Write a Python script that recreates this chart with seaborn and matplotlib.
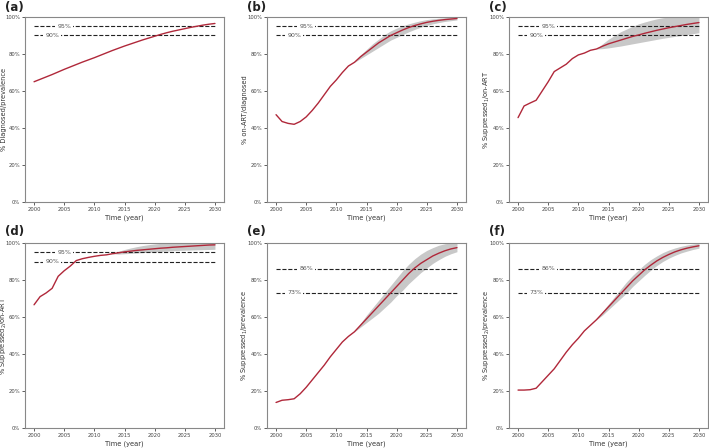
import matplotlib
matplotlib.use("Agg")
import matplotlib.pyplot as plt
import matplotlib.ticker as mticker
import numpy as np
import pandas as pd
import seaborn as sns

years = list(range(2000, 2031))
band_years = list(range(2013, 2031))

# (a) diagnosed / prevalence
diag_prev = [65.0, 66.3, 67.6, 68.9, 70.3, 71.7, 73.0, 74.3, 75.6, 76.8,
             78.0, 79.3, 80.6, 81.9, 83.1, 84.3, 85.4, 86.5, 87.6, 88.6,
             89.6, 90.6, 91.5, 92.3, 93.0, 93.7, 94.4, 95.0, 95.6, 96.1, 96.5]

# (b) on-ART / diagnosed
art_diag = [47.2, 43.5, 42.5, 42.0, 43.5, 46.0, 49.5, 53.5, 58.0, 62.5,
            66.0, 70.0, 73.5, 75.5, 78.5, 81.0, 83.5, 86.0, 88.0, 90.0,
            91.5, 93.0, 94.3, 95.4, 96.3, 97.1, 97.7, 98.2, 98.6, 98.9, 99.2]
art_diag_lo = [75.5, 77.5, 79.5, 81.5, 83.5, 85.5, 87.5, 89.0, 90.5, 92.0,
               93.3, 94.5, 95.5, 96.3, 97.0, 97.6, 98.0, 98.4]
art_diag_hi = [75.5, 79.5, 82.5, 85.5, 88.0, 90.5, 92.5, 94.0, 95.3, 96.3,
               97.2, 98.0, 98.6, 99.0, 99.3, 99.6, 99.8, 100.0]

# (c) suppressed_1 / on-ART
supp1_art = [45.6, 51.9, 53.5, 55.0, 60.0, 65.0, 70.5, 72.5, 74.5, 77.5,
             79.5, 80.5, 82.0, 82.7, 84.2, 85.5, 86.5, 87.5, 88.5, 89.5,
             90.3, 91.2, 92.0, 92.8, 93.5, 94.2, 94.8, 95.4, 96.0, 96.5, 97.0]
supp1_art_lo = [82.7, 82.9, 83.3, 83.8, 84.3, 84.9, 85.5, 86.1, 86.7, 87.3,
                87.9, 88.5, 89.0, 89.5, 90.0, 90.5, 91.0, 91.5]
supp1_art_hi = [82.7, 85.5, 88.0, 90.0, 92.0, 93.5, 95.0, 96.3, 97.3, 98.2,
                99.0, 99.6, 100.0, 100.0, 100.0, 100.0, 100.0, 100.0]

# (d) suppressed_2 / on-ART
supp2_art = [66.6, 71.0, 73.0, 75.5, 82.0, 85.0, 87.5, 90.5, 91.5, 92.2,
             92.8, 93.3, 93.6, 94.2, 94.7, 95.2, 95.6, 96.0, 96.3, 96.6,
             96.9, 97.2, 97.4, 97.7, 97.9, 98.1, 98.3, 98.5, 98.7, 98.9, 99.0]
supp2_art_lo = [94.2, 94.0, 94.2, 94.4, 94.6, 94.8, 95.0, 95.2, 95.4, 95.6,
                95.8, 96.0, 96.1, 96.2, 96.3, 96.4, 96.5, 96.6]
supp2_art_hi = [94.2, 95.5, 96.5, 97.3, 98.0, 98.6, 99.1, 99.5, 99.8, 100.0,
                100.0, 100.0, 100.0, 100.0, 100.0, 100.0, 100.0, 100.0]

# (e) suppressed_1 / prevalence
supp1_prev = [13.8, 15.0, 15.3, 15.8, 18.5, 22.0, 26.0, 30.0, 34.0, 38.5,
              42.5, 46.5, 49.5, 52.0, 55.5, 59.0, 62.5, 66.0, 69.5, 73.0,
              76.5, 80.0, 83.5, 86.5, 89.0, 91.0, 93.0, 94.5, 95.8, 96.8, 97.5]
supp1_prev_lo = [52.0, 54.5, 57.0, 59.5, 62.0, 65.0, 68.0, 71.5, 74.5, 78.0,
                 81.0, 84.0, 86.5, 89.0, 91.0, 92.8, 94.2, 95.3]
supp1_prev_hi = [52.0, 56.5, 61.0, 65.0, 69.0, 73.0, 77.0, 81.0, 85.0, 88.5,
                 91.5, 94.0, 96.0, 97.5, 98.8, 99.6, 100.0, 100.0]

# (f) suppressed_2 / prevalence
supp2_prev = [20.5, 20.5, 20.7, 21.5, 25.0, 28.5, 32.0, 36.5, 41.0, 45.0,
              48.5, 52.5, 55.5, 58.5, 62.0, 65.5, 69.0, 72.5, 76.0, 79.5,
              82.5, 85.5, 88.0, 90.3, 92.2, 93.8, 95.2, 96.3, 97.2, 97.9, 98.5]
supp2_prev_lo = [58.5, 61.0, 64.0, 67.0, 70.0, 73.0, 76.5, 79.5, 82.5, 85.3,
                 87.8, 90.0, 91.8, 93.3, 94.6, 95.6, 96.5, 97.2]
supp2_prev_hi = [58.5, 63.0, 67.0, 71.0, 75.0, 79.0, 82.5, 85.5, 88.5, 91.0,
                 93.0, 94.8, 96.2, 97.3, 98.2, 98.9, 99.4, 99.8]

targets_90 = [95, 90]
targets_73 = [86, 73]

panels = [
    ("(a)", "% Diagnosed/prevalence", diag_prev, None, None, targets_90),
    ("(b)", "% on-ART/diagnosed", art_diag, art_diag_lo, art_diag_hi, targets_90),
    ("(c)", "% Suppressed$_1$/on-ART", supp1_art, supp1_art_lo, supp1_art_hi, targets_90),
    ("(d)", "% Suppressed$_2$/on-ART", supp2_art, supp2_art_lo, supp2_art_hi, targets_90),
    ("(e)", "% Suppressed$_1$/prevalence", supp1_prev, supp1_prev_lo, supp1_prev_hi, targets_73),
    ("(f)", "% Suppressed$_2$/prevalence", supp2_prev, supp2_prev_lo, supp2_prev_hi, targets_73),
]

sns.set_theme(style="ticks")
plt.rcParams["font.family"] = ["DejaVu Sans"]

W, H = 709, 448
fig = plt.figure(figsize=(W / 100, H / 100), dpi=100)

lefts = [25, 267, 509]
ylab_off = [21, 22, 22]   # px from the left spine to the y-label centre
tops = [17, 243]
tag_y = [8, 231]
aw, ah = 199, 185
label_x = [2005, 2003]

for i, (tag, ylabel, vals, lo, hi, targets) in enumerate(panels):
    row, col = divmod(i, 3)
    ax = fig.add_axes([lefts[col] / W, 1 - (tops[row] + ah) / H, aw / W, ah / H])

    if lo is not None:
        ax.fill_between(band_years, lo, hi, color="#c8c8c8", lw=0, zorder=1)
    df = pd.DataFrame({"year": years, "value": vals})
    sns.lineplot(data=df, x="year", y="value", ax=ax, color="#b0283a", lw=1.0, zorder=3)

    for t, lx in zip(targets, label_x):
        ax.hlines(t, 2000, 2030, colors="#222222", linestyles="--", lw=0.8, zorder=2)
        ax.text(lx, t, f"{t}%", ha="center", va="center", fontsize=4.5, color="#555555",
                bbox=dict(fc="white", ec="none", pad=1.5), zorder=2.5)

    ax.set_xlim(1998.5, 2031.5)
    ax.set_ylim(0, 100)
    ax.set_xticks(range(2000, 2031, 5))
    ax.set_yticks(range(0, 101, 20))
    ax.yaxis.set_major_formatter(mticker.PercentFormatter(decimals=0))
    ax.tick_params(labelsize=3.8, length=2.5, width=0.6, pad=1.0, colors="#444444")
    ax.set_xlabel("Time (year)", fontsize=4.8, color="#333333", labelpad=2)
    ax.set_ylabel(ylabel, fontsize=4.8, color="#333333", va="center")
    ax.yaxis.set_label_coords(-ylab_off[col] / aw, 0.5)
    for s in ax.spines.values():
        s.set_color("#888888")
        s.set_linewidth(0.8)

    fig.text((lefts[col] - 20) / W, 1 - tag_y[row] / H, tag, fontsize=8.5,
             fontweight="bold", ha="left", va="center", color="#222222")

fig.savefig("out.png", dpi=100)
